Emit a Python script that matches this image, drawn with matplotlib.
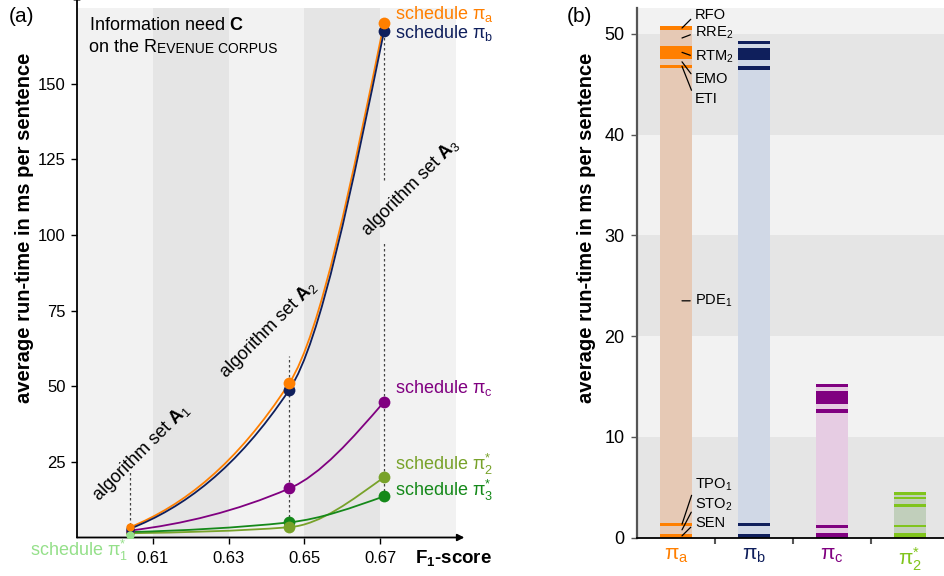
import matplotlib
matplotlib.use("Agg")
import matplotlib.pyplot as plt
from matplotlib.path import Path
from matplotlib.patches import PathPatch
import numpy as np

plt.rcParams['font.family'] = ['Liberation Sans', 'DejaVu Sans']
plt.rcParams['mathtext.fontset'] = 'custom'
plt.rcParams['mathtext.rm'] = 'Liberation Sans'
plt.rcParams['mathtext.it'] = 'Liberation Sans:italic'
plt.rcParams['mathtext.bf'] = 'Liberation Sans:bold'
plt.rcParams['mathtext.sf'] = 'Liberation Sans'

# ---------------- panel (a) data ----------------
f1_scores = [0.604, 0.646, 0.671]
set_names = ['1', '2', '3']
time_pi_a = [3.4, 51.0, 170.0]
time_pi_b = [2.9, 48.8, 167.3]
time_pi_c = [2.3, 16.2, 44.8]
time_pi_opt2 = [1.4, 3.4, 19.9]
time_pi_opt3 = [1.8, 5.0, 13.6]
time_pi_opt1 = [0.7]
xticks_a = [0.61, 0.63, 0.65, 0.67]
yticks_a = [25, 50, 75, 100, 125, 150]

# ---------------- panel (b) data ----------------
bar_labels = ['π$_{\\mathregular{a}}$', 'π$_{\\mathregular{b}}$',
              'π$_{\\mathregular{c}}$', 'π$^{*}_{\\mathregular{2}}$']
seg_pi_a = [0.37, 0.82, 0.30, 45.14, 0.27, 0.62, 1.26, 1.59, 0.39]
seg_pi_b = [0.37, 0.82, 0.27, 44.97, 0.37, 0.59, 1.19, 0.42, 0.28]
seg_pi_c = [0.47, 0.49, 0.30, 11.11, 0.40, 0.49, 1.29, 0.40, 0.30]
seg_pi_opt2 = [0.47, 0.59, 0.20, 1.79, 0.29, 0.50, 0.23, 0.17, 0.29]
algorithms_pi_a = ['SEN', 'STO$_2$', 'TPO$_1$', 'PDE$_1$', 'ETI', 'EMO',
                   'RTM$_2$', 'RRE$_2$', 'RFO']
yticks_b = [0, 10, 20, 30, 40, 50]

# ---------------- styles ----------------
c_a, c_b, c_c = '#ff7f00', '#0f1f5c', '#800080'
c_opt2, c_opt3, c_opt1 = '#78a22a', '#15891a', '#95e08a'
bar_dark = ['#ff7f00', '#0f1f5c', '#800080', '#80c41c']
bar_light = ['#e6c9b5', '#d0d8e6', '#e6cce3', '#c1cfbb']
band_light, band_dark = '#f2f2f2', '#e5e5e5'

fig = plt.figure(figsize=(9.44, 5.76), dpi=100)

# ================= panel (a) =================
ax = fig.add_axes([77/944, 38.5/576, 379/944, 529.5/576])
ax.set_xlim(0.59, 0.69)
ax.set_ylim(0, 175)
edges = [0.59, 0.61, 0.63, 0.65, 0.67, 0.69]
for i in range(len(edges) - 1):
    ax.axvspan(edges[i], edges[i + 1], color=band_light if i % 2 == 0 else band_dark,
               lw=0, zorder=0)


def mono_path(x, y):
    x = np.asarray(x, float)
    y = np.asarray(y, float)
    h = np.diff(x)
    d = np.diff(y) / h
    n = len(x)
    m = np.zeros(n)
    for k in range(1, n - 1):
        if d[k - 1] * d[k] > 0:
            w1 = 2 * h[k] + h[k - 1]
            w2 = h[k] + 2 * h[k - 1]
            m[k] = (w1 + w2) / (w1 / d[k - 1] + w2 / d[k])

    def ends(h0, h1, d0, d1):
        s = ((2 * h0 + h1) * d0 - h0 * d1) / (h0 + h1)
        if np.sign(s) != np.sign(d0):
            s = 0.0
        return s
    m[0] = max(ends(h[0], h[1], d[0], d[1]), 0.45 * d[0])
    m[-1] = ends(h[-1], h[-2], d[-1], d[-2])
    verts = [(x[0], y[0])]
    codes = [Path.MOVETO]
    for k in range(n - 1):
        verts += [(x[k] + h[k] / 3, y[k] + m[k] * h[k] / 3),
                  (x[k + 1] - h[k] / 3, y[k + 1] - m[k + 1] * h[k] / 3),
                  (x[k + 1], y[k + 1])]
        codes += [Path.CURVE4] * 3
    return Path(verts, codes)


series = [(time_pi_a, c_a), (time_pi_b, c_b), (time_pi_c, c_c),
          (time_pi_opt2, c_opt2), (time_pi_opt3, c_opt3)]

# dotted guide lines
guide_tops = [21.5, 60.0, None]
for j, xf in enumerate(f1_scores):
    vals = [s[0][j] for s in series]
    lo = min(vals)
    if j == 0:
        lo = time_pi_opt1[0]
    hi = guide_tops[j] if guide_tops[j] is not None else max(vals)
    if j == 2:
        ax.plot([xf, xf], [lo, 98], ls=(0, (2, 2)), color='#444444', lw=0.9, zorder=1)
        ax.plot([xf, xf], [118, hi], ls=(0, (2, 2)), color='#444444', lw=0.9, zorder=1)
    else:
        ax.plot([xf, xf], [lo, hi], ls=(0, (2, 2)), color='#444444', lw=0.9, zorder=1)

for vals, col in series:
    ax.add_patch(PathPatch(mono_path(f1_scores, vals), fc='none', ec=col, lw=1.3, zorder=2))
for vals, col in series[::-1]:
    ax.plot(f1_scores[1:], vals[1:], 'o', color=col, ms=8.5, zorder=3, mec='none')
for vals, col in series[::-1]:
    ax.plot(f1_scores[:1], vals[:1], 'o', color=col, ms=6, zorder=3, mec='none')
ax.plot(f1_scores[:1], time_pi_opt1, 'o', color=c_opt1, ms=6, zorder=4, mec='none')

for s in ['top', 'right', 'left', 'bottom']:
    ax.spines[s].set_visible(False)
ax.annotate('', xy=(0, 1.03), xytext=(0, 0), xycoords='axes fraction',
            arrowprops=dict(arrowstyle='-|>', color='black', lw=1.3, mutation_scale=10,
                            shrinkA=0, shrinkB=0), annotation_clip=False)
ax.annotate('', xy=(1.022, 0), xytext=(0, 0), xycoords='axes fraction',
            arrowprops=dict(arrowstyle='-|>', color='black', lw=1.3, mutation_scale=10,
                            shrinkA=0, shrinkB=0), annotation_clip=False)
ax.set_xticks(xticks_a)
ax.set_xticklabels([f'{v:.2f}' for v in xticks_a])
ax.set_yticks(yticks_a)
ax.tick_params(axis='both', direction='out', length=4, width=1, labelsize=12)
ax.tick_params(axis='x', pad=6)
ax.tick_params(axis='y', pad=4)

# texts panel (a)
ax.text(0.5932, 169.3, 'Information need $\\mathbf{C}$', fontsize=13, va='center', ha='left')
t1 = ax.text(0.5932, 162.0, 'on the R', fontsize=13, va='center', ha='left')
ax.annotate('EVENUE CORPUS', xy=(1, 0), xycoords=t1, fontsize=10, va='bottom', ha='left')

set_text_pos = [(0.6069, 27.9), (0.6404, 68.5), (0.6779, 115.7)]
for (tx, ty), nm in zip(set_text_pos, set_names):
    ax.text(tx, ty, 'algorithm set $\\mathbf{A}_{\\mathregular{' + nm + '}}$', fontsize=13,
            rotation=45, ha='center', va='center', rotation_mode='anchor')

lab_x = 0.6739
sched = [('schedule π$_{\\mathregular{a}}$', 172.9, c_a),
         ('schedule π$_{\\mathregular{b}}$', 166.6, c_b),
         ('schedule π$_{\\mathregular{c}}$', 49.4, c_c),
         ('schedule π$^{*}_{\\mathregular{2}}$', 24.3, c_opt2),
         ('schedule π$^{*}_{\\mathregular{3}}$', 15.4, c_opt3)]
for txt, yy, col in sched:
    ax.text(lab_x, yy, txt, color=col, fontsize=13, va='center', ha='left', clip_on=False)
ax.text(0.6035, -4.4, 'schedule π$^{*}_{\\mathregular{1}}$', color=c_opt1, fontsize=13,
        va='center', ha='right', clip_on=False)

fig.text(415/944, 1 - 558/576, 'F$_{\\mathbf{1}}$-score', fontsize=13.5, fontweight='bold',
         ha='left', va='center')
fig.text(25/944, 1 - 53/576, 'average run-time in ms per sentence', fontsize=14.5,
         fontweight='bold', rotation=90, ha='center', va='top')
fig.text(9/944, 1 - 17/576, '(a)', fontsize=15, ha='left', va='center')

# ================= panel (b) =================
ax2 = fig.add_axes([637/944, 38.3/576, 307/944, 529.7/576])
ax2.set_xlim(-0.5, 3.436)
ax2.set_ylim(0, 52.55)
bands = [0, 10, 20, 30, 40, 50, 52.55]
for i in range(len(bands) - 1):
    ax2.axhspan(bands[i], bands[i + 1], color=band_dark if i % 2 == 0 else band_light,
                lw=0, zorder=0)

all_segs = [seg_pi_a, seg_pi_b, seg_pi_c, seg_pi_opt2]
bw = 0.41
for i, segs in enumerate(all_segs):
    bottom = 0.0
    for k, s in enumerate(segs):
        ax2.bar(i, s, bottom=bottom, width=bw,
                color=bar_dark[i] if k % 2 == 0 else bar_light[i], lw=0, zorder=2)
        bottom += s

label_y = [1.46, 3.24, 5.23, None, 43.5, 45.5, 47.69, 50.07, 51.85]
cum = np.concatenate([[0], np.cumsum(seg_pi_a)])
for k, name in enumerate(algorithms_pi_a):
    mid = (cum[k] + cum[k + 1]) / 2
    ly = label_y[k] if label_y[k] is not None else 23.5
    if label_y[k] is None:
        mid = 23.5
    ax2.annotate(name, xy=(0.077, mid), xytext=(0.244, ly), fontsize=10.5,
                 ha='left', va='center', zorder=5,
                 arrowprops=dict(arrowstyle='-', color='black', lw=0.9,
                                 shrinkA=1.5, shrinkB=0, relpos=(0, 0.5)))

for s in ['top', 'right']:
    ax2.spines[s].set_visible(False)
ax2.spines['left'].set_color('#555555')
ax2.spines['left'].set_linewidth(1.6)
ax2.spines['bottom'].set_color('black')
ax2.spines['bottom'].set_linewidth(1.3)
ax2.set_yticks(yticks_b)
ax2.tick_params(axis='y', direction='out', length=4, width=1, color='#555555',
                labelsize=13, pad=5)
ax2.set_xticks([0.5, 1.5, 2.5])
ax2.set_xticklabels([])
ax2.tick_params(axis='x', which='major', direction='out', length=4, width=1.5,
                color='#555555')
ax2.set_xticks(range(len(bar_labels)), minor=True)
ax2.set_xticklabels(bar_labels, minor=True)
ax2.tick_params(axis='x', which='minor', length=0, labelsize=15, pad=6)
for lab, col in zip(ax2.get_xticklabels(minor=True), bar_dark):
    lab.set_color(col)

fig.text(587/944, 1 - 53/576, 'average run-time in ms per sentence', fontsize=14.5,
         fontweight='bold', rotation=90, ha='center', va='top')
fig.text(567/944, 1 - 17/576, '(b)', fontsize=15, ha='left', va='center')

fig.savefig('out.png', dpi=100)
